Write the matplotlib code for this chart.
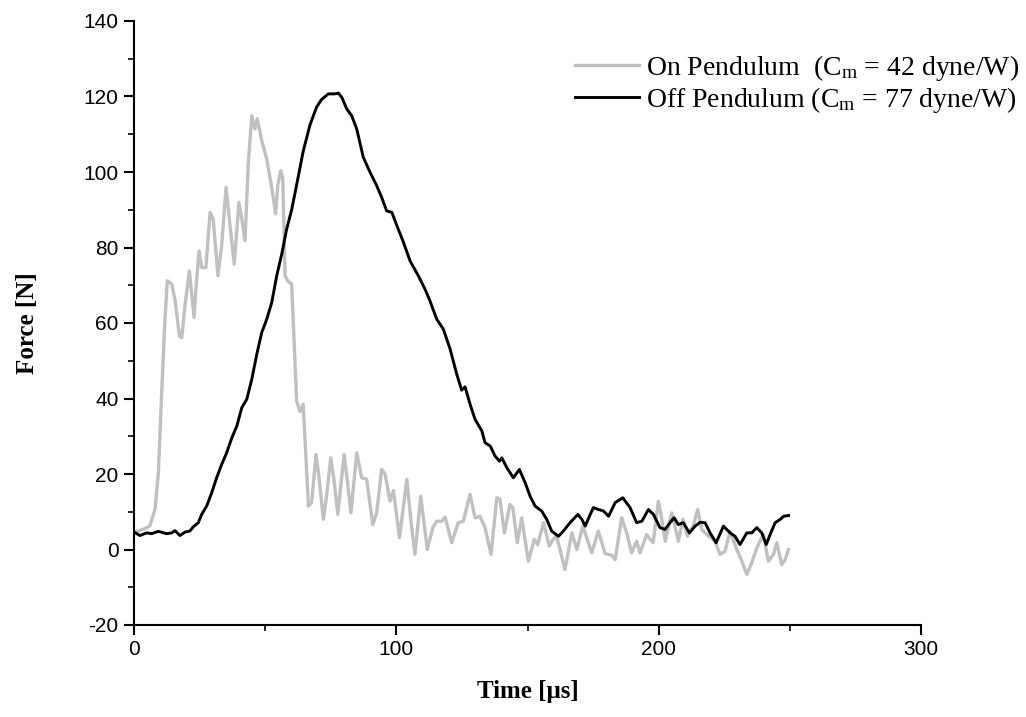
import matplotlib
matplotlib.use("Agg")
import matplotlib.pyplot as plt
from matplotlib.ticker import MultipleLocator

# ---- data ----
on_t = [0, 4, 6, 8, 9.3, 10.5, 11.8, 12.7, 14.4, 15.6,
        17.3, 18.2, 19.4, 21.1, 22.9, 23.6, 24.8, 25.8, 27.4, 29.0,
        30.2, 32.0, 33.4, 35.1, 36.6, 38.2, 40.0, 41.1, 42.3, 43.6,
        44.9, 46.1, 47.0, 48.7, 50.6, 52.5, 54.0, 54.8, 55.9, 56.7,
        57.6, 58.6, 60.1, 62.0, 63.3, 64.5, 66.5, 67.7, 69.4, 70.6,
        72.2, 73.4, 75.0, 76.2, 77.7, 80.1, 81.4, 82.7, 84.9, 86.8,
        88.7, 91.0, 92.5, 94.4, 95.7, 97.6, 98.9, 101.2, 104.0, 105.5,
        107.1, 109.3, 111.8, 113.9, 115.4, 117.3, 118.6, 121.1, 123.6, 125.5,
        128.1, 130.0, 131.9, 133.8, 136.1, 138.3, 139.5, 141.2, 143.3, 144.4,
        146.1, 147.8, 150.3, 152.6, 153.9, 156.1, 158.3, 159.8, 161.1, 164.3,
        166.9, 168.8, 171.1, 174.5, 177.0, 179.6, 182.1, 183.4, 185.9, 187.8,
        189.7, 191.6, 192.9, 195.4, 196.7, 197.9, 199.9, 201.2, 202.5, 205.0,
        207.5, 209.2, 211.0, 213.3, 214.9, 216.4, 218.3, 221.5, 223.4, 225.3,
        227.2, 229.8, 231.7, 233.6, 235.5, 237.4, 239.9, 241.8, 243.8, 245.0,
        246.9, 248.2, 249.5]
on_force = [4.5, 5.5, 6.2, 10.6, 20.3, 40.7, 61.0, 71.2, 70.3, 66.3,
            56.6, 56.1, 64.5, 73.8, 61.5, 69.0, 79.1, 74.7, 74.7, 89.3,
            87.5, 72.5, 80.5, 95.9, 85.8, 75.6, 92.0, 87.5, 81.8, 102.6,
            114.9, 111.4, 114.1, 108.3, 103.4, 95.9, 88.9, 96.4, 100.4, 98.3,
            72.5, 71.2, 70.3, 39.3, 36.5, 38.5, 11.5, 12.4, 25.2, 18.6,
            8.0, 14.1, 24.3, 18.6, 9.3, 25.2, 17.7, 9.7, 25.6, 19.0,
            18.6, 6.6, 9.7, 21.2, 20.0, 12.8, 15.6, 3.1, 18.6, 8.0,
            -1.3, 14.1, 0.0, 5.8, 7.5, 7.5, 8.6, 1.8, 7.1, 7.5,
            14.6, 8.4, 8.8, 5.8, -1.3, 13.7, 13.3, 4.4, 11.9, 11.1,
            1.8, 8.4, -3.1, 2.7, 1.3, 7.1, 0.9, 2.7, 3.5, -5.3,
            4.4, 0.0, 6.2, -0.9, 4.9, -1.1, -1.5, -2.7, 8.4, 4.4,
            -0.9, 2.2, -0.9, 4.0, 2.7, 1.8, 12.8, 8.0, 2.2, 9.7,
            2.2, 8.0, 3.5, 6.6, 10.6, 5.3, 4.0, 2.2, -1.3, -0.5,
            4.9, 0.0, -3.1, -6.6, -3.5, 0.4, 4.0, -3.1, -1.3, 1.8,
            -4.0, -2.7, 0.0]

off_t = [0, 2.3, 4.8, 6.7, 9.3, 12.4, 14.4, 15.6, 17.5, 19.4,
         21.3, 22.6, 24.5, 25.8, 27.7, 29.6, 31.5, 33.4, 35.3, 37.3,
         39.2, 41.1, 43.0, 44.9, 46.8, 48.7, 50.6, 52.5, 54.4, 56.3,
         58.2, 60.1, 62.0, 64.5, 67.1, 69.6, 71.5, 74.1, 76.6, 77.9,
         79.2, 81.1, 83.0, 84.9, 87.4, 90.0, 92.5, 94.4, 96.3, 98.3,
         100.2, 102.7, 105.2, 108.4, 110.9, 112.8, 115.4, 117.9, 120.5, 123.0,
         124.9, 126.2, 128.1, 130.0, 132.6, 133.8, 135.8, 137.6, 139.3, 140.2,
         142.1, 144.6, 146.9, 149.1, 151.0, 152.9, 155.4, 157.3, 159.2, 161.8,
         163.7, 166.2, 169.2, 170.7, 172.0, 173.6, 175.1, 177.0, 179.0, 180.9,
         183.4, 186.3, 189.1, 191.6, 193.6, 196.1, 198.0, 200.5, 202.4, 204.3,
         205.9, 207.5, 209.4, 211.7, 213.9, 215.8, 217.7, 219.6, 221.9, 224.7,
         227.2, 229.1, 231.0, 233.6, 235.5, 237.4, 239.3, 241.0, 242.5, 244.4,
         246.4, 247.6, 249.5]
off_force = [4.6, 3.7, 4.4, 4.2, 4.8, 4.2, 4.4, 5.0, 3.7, 4.6,
             4.9, 6.0, 7.1, 9.3, 11.5, 15.0, 19.0, 22.5, 25.6, 29.6,
             32.7, 37.6, 39.8, 45.1, 51.7, 57.5, 61.0, 65.4, 72.5, 78.2,
             84.9, 90.0, 96.6, 105.5, 112.5, 117.2, 119.2, 120.7, 120.7, 120.9,
             119.8, 116.7, 114.9, 111.4, 103.9, 99.9, 96.4, 93.3, 89.7, 89.3,
             85.8, 81.4, 76.5, 72.5, 69.0, 65.9, 61.0, 58.4, 53.1, 46.5,
             42.2, 43.1, 38.5, 34.5, 31.4, 28.3, 27.4, 24.8, 23.4, 24.3,
             21.7, 19.0, 21.2, 17.7, 14.1, 11.5, 10.2, 8.0, 4.9, 3.5,
             4.9, 7.1, 9.3, 8.0, 6.2, 8.8, 11.1, 10.6, 10.2, 8.8,
             12.4, 13.7, 11.1, 7.1, 7.5, 10.6, 9.3, 5.8, 5.3, 7.1,
             8.4, 6.6, 7.1, 4.4, 6.2, 7.2, 7.1, 4.4, 1.8, 6.2,
             4.4, 3.5, 1.3, 4.4, 4.4, 5.8, 4.4, 1.3, 4.0, 7.1,
             8.0, 8.8, 9.0]

on_label = "On Pendulum  (C$_{\\mathrm{m}}$ = 42 dyne/W)"
off_label = "Off Pendulum (C$_{\\mathrm{m}}$ = 77 dyne/W)"
x_ticks = [0, 100, 200, 300]
y_ticks = [-20, 0, 20, 40, 60, 80, 100, 120, 140]

# ---- style ----
plt.rcParams['axes.unicode_minus'] = False
plt.rcParams['mathtext.fontset'] = 'custom'
plt.rcParams['mathtext.rm'] = 'Liberation Serif'
plt.rcParams['mathtext.it'] = 'Liberation Serif:italic'

fig = plt.figure(figsize=(10.26, 7.17), dpi=100)
ax = fig.add_axes([134 / 1026, 1 - 625 / 717, (921 - 134) / 1026, (625 - 21) / 717])

ax.plot(on_t, on_force, color='#c0c0c0', lw=2.4, label=on_label, solid_joinstyle='round')
ax.plot(off_t, off_force, color='#000000', lw=2.1, label=off_label, solid_joinstyle='round')

ax.set_xlim(0, 300)
ax.set_ylim(-20, 140)
ax.set_xticks(x_ticks)
ax.set_yticks(y_ticks)
ax.xaxis.set_minor_locator(MultipleLocator(50))
ax.yaxis.set_minor_locator(MultipleLocator(10))

for s in ['top', 'right']:
    ax.spines[s].set_visible(False)
for s in ['left', 'bottom']:
    ax.spines[s].set_linewidth(1.5)

ax.tick_params(which='major', direction='out', length=7, width=1.5, pad=4,
               labelsize=15, colors='black')
ax.tick_params(which='minor', direction='out', length=4, width=1.2)
for lab in ax.get_xticklabels() + ax.get_yticklabels():
    lab.set_fontfamily('Liberation Sans')

ax.set_xlabel('Time [\u03bcs]', fontfamily='Liberation Serif', fontweight='bold',
              fontsize=18, labelpad=15)
ax.set_ylabel('Force [N]', fontfamily='Liberation Serif', fontweight='bold',
              fontsize=18, labelpad=32)

leg = fig.legend(loc='upper left', bbox_to_anchor=(575 / 1026, 1 - 53 / 717),
                 frameon=False, prop={'family': 'Liberation Serif', 'size': 20},
                 handlelength=2.3, handletextpad=0.25, borderpad=0, borderaxespad=0,
                 labelspacing=0.08)

fig.savefig('out.png', dpi=100, facecolor='white')
